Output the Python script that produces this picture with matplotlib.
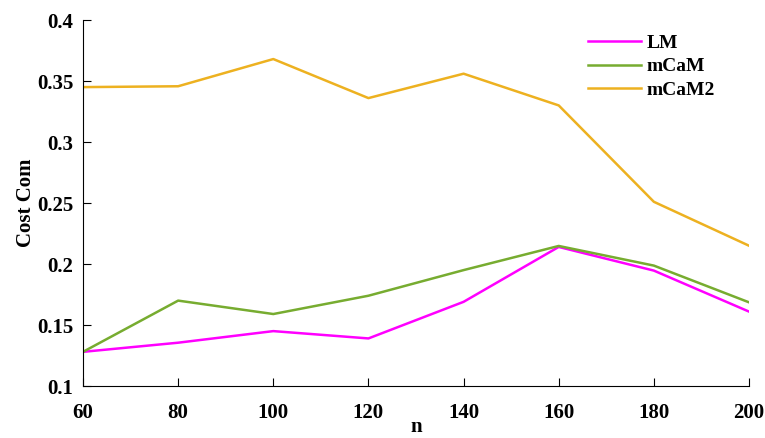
import matplotlib
matplotlib.use("Agg")
import matplotlib.pyplot as plt

n = [60, 80, 100, 120, 140, 160, 180, 200]
lm = [0.128, 0.1355, 0.145, 0.139, 0.169, 0.214, 0.1946, 0.161]
mcam = [0.128, 0.170, 0.159, 0.174, 0.195, 0.2148, 0.1987, 0.1686]
mcam2 = [0.345, 0.3457, 0.368, 0.336, 0.356, 0.330, 0.251, 0.215]

plt.rcParams['font.family'] = ['Liberation Serif', 'DejaVu Serif']
plt.rcParams['font.weight'] = 'bold'

fig = plt.figure(figsize=(7.65, 4.38), dpi=100)
ax = fig.add_axes([0.1085, 0.1187, 0.8706, 0.8356])

ax.plot(n, lm, color='#FF00FF', lw=1.8, label='LM')
ax.plot(n, mcam, color='#77AC30', lw=1.8, label='mCaM')
ax.plot(n, mcam2, color='#EDB120', lw=1.8, label='mCaM2')

ax.set_xlim(60, 200)
ax.set_ylim(0.1, 0.4)
ax.set_xticks(n)
ax.set_yticks([0.1, 0.15, 0.2, 0.25, 0.3, 0.35, 0.4])
ax.set_yticklabels(['0.1', '0.15', '0.2', '0.25', '0.3', '0.35', '0.4'])
ax.tick_params(direction='in', labelsize=15, width=0.8, length=6)
ax.tick_params(axis='x', pad=12)
ax.tick_params(axis='y', pad=7)
for lab in ax.get_xticklabels() + ax.get_yticklabels():
    lab.set_fontweight('bold')
ax.spines['top'].set_visible(False)
ax.spines['right'].set_visible(False)

ax.set_xlabel('n', fontsize=15, fontweight='bold', labelpad=-4)
ax.set_ylabel('Cost Com', fontsize=15, fontweight='bold', labelpad=1)

leg = ax.legend(loc='upper left', bbox_to_anchor=(588 / 765, 1 - 34 / 438),
                bbox_transform=fig.transFigure, frameon=False, fontsize=14,
                handlelength=2.7, handletextpad=0.3, labelspacing=0.32,
                borderpad=0, borderaxespad=0)
for t in leg.get_texts():
    t.set_fontweight('bold')

fig.savefig('out.png', dpi=100)
